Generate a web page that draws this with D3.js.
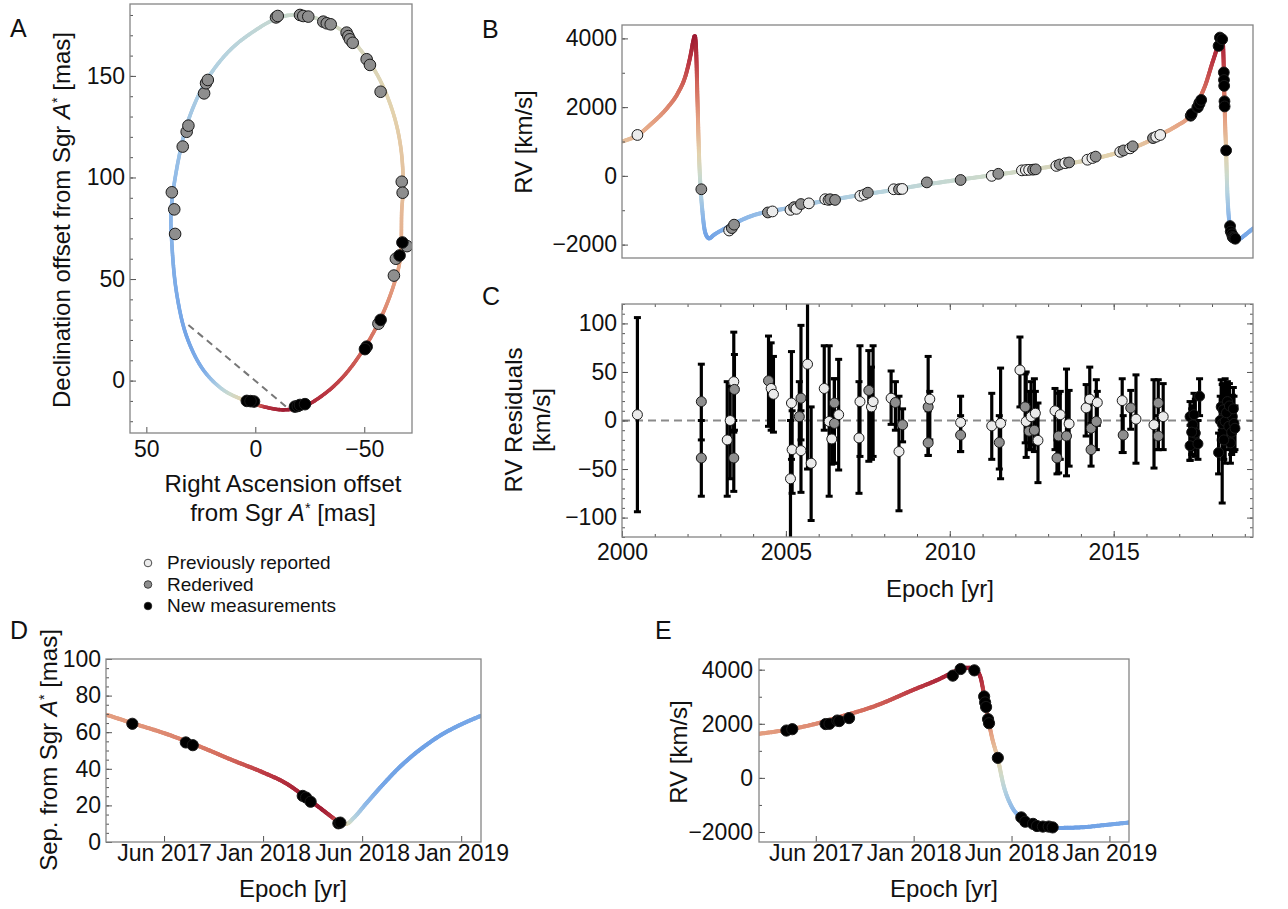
<!DOCTYPE html>
<html>
<head>
<meta charset="utf-8">
<script src="https://cdn.jsdelivr.net/npm/d3@7"></script>
<style>
  body { margin: 0; background: #fff; }
  svg text { font-family: "Liberation Sans", Arial, Helvetica, sans-serif; }
</style>
</head>
<body>
<svg id="fig" width="1288" height="909"></svg>
<script>
// ---- data ----
// orbit model (RA offset, Dec offset, RV used for colour)
const orbitCurve = [
  [38.6, 84, -1300], [35.3, 108.6, -1050], [30.7, 128.3, -850], [22.3, 148, -650],
  [11.6, 162.7, -450], [0.9, 171.8, -300], [-9.8, 178.3, -150], [-17.4, 180, -50],
  [-28.2, 178.3, 50], [-40.4, 171.8, 200], [-49.5, 161.1, 300], [-57.2, 148, 450],
  [-63.3, 131.6, 600], [-66.7, 115.2, 800], [-67.9, 95.5, 950], [-67.2, 84, 1100],
  [-66.4, 59.4, 1400], [-63.3, 46.3, 1700], [-57.2, 29.9, 2100], [-49.5, 15.1, 2600],
  [-40.4, 2, 3000], [-31.2, -7, 3400], [-22, -12.8, 3800], [-12.8, -14.4, 4000],
  [-3.7, -12.8, 3500], [5.5, -9.5, 700], [14.7, -4.6, -300], [23.9, 5.3, -1500],
  [31.5, 21.7, -1750], [36.1, 43, -1600], [38.3, 67.6, -1400]
];
// astrometry (RA, Dec, type: g = rederived, b = new)
const orbitPoints = [
  [-9.5, 178.8, "g"], [-10.3, 179.5, "g"], [-20.5, 180, "g"], [-22, 179.5, "g"], [-24.3, 179.2, "g"],
  [-31.2, 176.7, "g"], [-32.8, 175.9, "g"], [-34.6, 175.4, "g"],
  [-41.9, 171.3, "g"], [-42.7, 169.6, "g"], [-43.4, 168, "g"], [-44.7, 166.3, "g"],
  [-51.1, 158.2, "g"], [-52.6, 155.4, "g"], [-57.5, 142.2, "g"],
  [-67.2, 97.9, "g"], [-67.6, 92.5, "g"],
  [38.3, 92.7, "g"], [37.2, 84.3, "g"], [36.8, 72.2, "g"], [33.3, 115.2, "g"], [31.5, 122.5, "g"],
  [30.7, 125.5, "g"], [23.5, 141.4, "g"], [22.6, 146.4, "g"], [21.8, 148, "g"],
  [-69.6, 66.2, "g"], [-64.5, 60, "g"], [-63.6, 51.7, "g"], [-56.5, 28, "g"],
  [-67.5, 68, "b"], [-66.2, 61.6, "b"], [-57.5, 29.9, "b"], [-51.1, 16.7, "b"], [-50.3, 15.5, "b"],
  [3.9, -10, "b"], [0.6, -10.3, "b"], [2.2, -10.1, "b"], [-18.2, -12.8, "b"], [-19.5, -12.5, "b"],
  [-20.5, -12, "b"], [-22.8, -11.6, "b"]
];
const periLine = [[30.7, 27.4], [-15.9, -14.4]];

// RV model (year, km/s)
const rvModel = [
  [2000.0, 1000], [2000.5, 1200], [2000.9, 1520], [2001.4, 2000], [2001.7, 2400], [2001.95, 2950],
  [2002.1, 3550], [2002.18, 3950], [2002.22, 4080], [2002.26, 3700], [2002.3, 2300], [2002.35, 600],
  [2002.4, -400], [2002.45, -1000], [2002.5, -1450], [2002.58, -1750], [2002.66, -1820], [2002.8, -1720],
  [2003.1, -1550], [2003.5, -1350], [2004.0, -1150], [2004.5, -1030], [2005.0, -950], [2006.0, -760],
  [2007.0, -600], [2008.0, -450], [2009.0, -290], [2010.0, -150], [2011.0, -20], [2012.0, 110],
  [2013.0, 260], [2014.0, 420], [2015.0, 640], [2015.5, 780], [2016.0, 980], [2016.5, 1230],
  [2017.0, 1500], [2017.21, 1630], [2017.5, 2000], [2017.62, 2250], [2017.8, 2650], [2018.0, 3260],
  [2018.13, 3650], [2018.2, 3900], [2018.24, 4030], [2018.28, 4070], [2018.31, 4040], [2018.34, 3750],
  [2018.36, 3050], [2018.38, 2200], [2018.40, 1500], [2018.43, 700], [2018.46, -300], [2018.5, -1050],
  [2018.55, -1480], [2018.6, -1700], [2018.66, -1810], [2018.73, -1850], [2018.85, -1830],
  [2018.98, -1740], [2019.1, -1650], [2019.25, -1530]
];
// RV measurements before 2017 (year, km/s, type: w = previously reported, g = rederived)
const rvPoints = [
  [2000.47, 1190, "w"], [2002.42, -390, "g"], [2003.27, -1590, "w"], [2003.35, -1520, "g"], [2003.42, -1420, "g"],
  [2004.45, -1065, "g"], [2004.59, -1035, "w"], [2005.14, -990, "w"], [2005.25, -910, "g"], [2005.32, -960, "w"],
  [2005.46, -820, "g"], [2005.7, -800, "w"], [2006.2, -680, "w"], [2006.3, -700, "w"], [2006.35, -680, "g"],
  [2006.5, -700, "g"], [2007.27, -580, "w"], [2007.4, -540, "w"], [2007.5, -490, "g"], [2008.29, -390, "w"],
  [2008.45, -390, "g"], [2008.55, -380, "w"], [2009.3, -190, "g"], [2010.33, -120, "g"], [2011.28, 0, "w"],
  [2011.48, 60, "g"], [2012.2, 160, "w"], [2012.32, 170, "w"], [2012.42, 175, "w"], [2012.54, 180, "g"],
  [2012.62, 190, "g"], [2013.25, 290, "w"], [2013.35, 330, "g"], [2013.52, 370, "w"], [2013.64, 390, "g"],
  [2014.2, 470, "w"], [2014.35, 520, "w"], [2014.45, 560, "g"], [2015.2, 700, "w"], [2015.3, 740, "g"],
  [2015.5, 800, "w"], [2015.58, 860, "g"], [2016.2, 1100, "g"], [2016.3, 1140, "w"], [2016.42, 1190, "w"]
];
// new RV measurements 2017-2018 (year, km/s)
const newRV = [
  [2017.35, 1750], [2017.38, 1800], [2017.55, 1990], [2017.57, 2000], [2017.61, 2120], [2017.62, 2100],
  [2017.67, 2210], [2018.2, 3780], [2018.24, 4025], [2018.31, 3975], [2018.36, 3010], [2018.365, 2790],
  [2018.37, 2620], [2018.38, 2170], [2018.385, 2020], [2018.43, 740], [2018.55, -1460], [2018.57, -1620],
  [2018.61, -1700], [2018.63, -1780], [2018.66, -1800], [2018.69, -1800], [2018.71, -1830]
];
// RV residuals (year, residual, bar low, bar high, type)
const residuals = [
  [2000.47, 6, -94, 106, "w"], [2002.42, 19.5, -20, 58, "g"], [2002.42, -38.6, -78, 0, "g"],
  [2003.21, -20, -78, 40, "w"], [2003.3, 0, -60, 35, "w"], [2003.41, 40, -12, 91, "w"],
  [2003.43, 32, -10, 68, "g"], [2003.41, -38.6, -73, 0, "g"], [2004.47, 41, -6, 87, "g"],
  [2004.55, 33, -10, 80, "w"], [2004.62, 27, -12, 66, "w"], [2005.14, -60, -125, 0, "w"],
  [2005.17, 18, -40, 71, "w"], [2005.19, -30, -75, 10, "w"], [2005.41, 4, -30, 40, "g"],
  [2005.46, 23, -20, 98, "g"], [2005.46, -31, -74, 10, "w"], [2005.66, 58, -50, 125, "w"],
  [2005.77, -44, -103, 14, "w"], [2006.17, 33, -10, 77, "w"], [2006.32, -1, -78, 77, "w"],
  [2006.4, -19, -45, 20, "w"], [2006.48, 18, -44, 43, "g"], [2006.48, -3, -44, 43, "g"],
  [2006.61, 6, -51, 63, "w"], [2007.23, -18, -75, 40, "w"], [2007.26, 19.5, -37, 77, "w"],
  [2007.53, 31, -42, 72, "g"], [2007.61, 14, -40, 55, "w"], [2007.66, 19.5, -37, 77, "w"],
  [2008.21, 23, -4, 51, "w"], [2008.34, 18.5, -10, 40, "g"], [2008.45, -32, -93, 25, "w"],
  [2008.56, -4.4, -22, 12, "g"], [2009.34, 14, -36, 66, "g"], [2009.34, -23, -36, 10, "g"],
  [2009.39, 22, -20, 30, "w"], [2010.33, -2, -32, 25, "w"], [2010.33, -15, -32, 5, "g"],
  [2011.28, -5.5, -40, 28, "w"], [2011.55, -3, -60, 54, "w"], [2011.51, -22.6, -50, 5, "g"],
  [2012.14, 52, 14, 86, "w"], [2012.3, 14, -23, 48, "g"], [2012.33, -1, -38, 50, "w"],
  [2012.42, -11, -30, 30, "g"], [2012.48, 4, -30, 40, "w"], [2012.58, -10, -32, 43, "g"],
  [2012.61, 7.5, -25, 30, "w"], [2012.69, -20.5, -64, 18, "w"], [2013.21, 10, -30, 33, "w"],
  [2013.32, -16, -54, 28, "g"], [2013.27, -38.6, -55, -20, "g"], [2013.37, 6, -40, 30, "w"],
  [2013.56, -16, -57, 53, "g"], [2013.64, -3.4, -47, 31, "w"], [2014.16, 13, -16, 37, "w"],
  [2014.27, 22, -10, 55, "w"], [2014.31, -30, -47, -3, "g"], [2014.31, -8, -30, 20, "g"],
  [2014.47, -1, -30, 42, "g"], [2014.5, 18.5, -5, 30, "w"], [2015.26, 20.5, -33, 43, "w"],
  [2015.29, -15, -33, 5, "g"], [2015.52, 13, -9, 31, "g"], [2015.68, 1.4, -44, 47, "w"],
  [2016.23, -4.4, -49, 42, "w"], [2016.36, 18, -30, 42, "g"], [2016.36, -16, -30, 5, "g"],
  [2016.51, 4, -30, 38, "w"],
  [2017.33, 4, -41, 19.5, "b"], [2017.41, -4.4, -30, 15, "b"], [2017.33, -26, -41, -5, "b"],
  [2017.49, -13, -37, 22, "b"], [2017.62, 25, 5, 43, "b"], [2017.57, -24, -40, 0, "b"],
  [2017.38, -12, -35, 12, "b"], [2017.45, 6, -20, 28, "b"],
  [2018.2, -33, -55, -13, "b"], [2018.25, 0, -20, 25, "b"], [2018.28, 14, -10, 42, "b"],
  [2018.31, -3.4, -85, 37, "b"], [2018.34, 11, -15, 38, "b"], [2018.4, -1, -44, 43, "b"],
  [2018.47, 19.5, -5, 40, "b"], [2018.51, -6, -30, 20, "b"], [2018.56, -23, -44, 0, "b"],
  [2018.62, 4, -27, 26, "b"], [2018.67, -3, -32, 25, "b"], [2018.36, -20, -40, 2, "b"],
  [2018.44, 8, -12, 30, "b"], [2018.53, 15, -8, 38, "b"], [2018.6, -12, -35, 10, "b"],
  [2018.65, 12, -10, 34, "b"], [2018.7, -8, -30, 15, "b"]
];
// separation model (year, mas, RV used for colour) and measurements
const sepModel = [
  [2017.21, 69.5, 1630], [2017.35, 64.6, 1750], [2017.5, 59.5, 2000], [2017.68, 52.2, 2250],
  [2017.85, 44.5, 2650], [2018.0, 38, 3250], [2018.12, 31.8, 3600], [2018.2, 25.7, 3900],
  [2018.29, 18.4, 4050], [2018.355, 13, 3500], [2018.39, 10.2, 2000], [2018.42, 9.9, 600],
  [2018.456, 13, -400], [2018.52, 21, -1200], [2018.61, 32, -1700], [2018.69, 41, -1800],
  [2018.86, 55.8, -1830], [2019.10, 69, -1650]
];
const sepPoints = [
  [2017.34, 64.6], [2017.61, 54.4], [2017.645, 52.9], [2018.2, 25.2], [2018.217, 24.3],
  [2018.24, 22], [2018.38, 10.2], [2018.39, 10.6]
];
// tick labels
const orbitXTicks = [50, 0, -50];
const orbitYTicks = [0, 50, 100, 150];
const rvTicks = [-2000, 0, 2000, 4000];
const resTicks = [-100, -50, 0, 50, 100];
const yearTicks = [2000, 2005, 2010, 2015];
const sepTicks = [0, 20, 40, 60, 80, 100];
const zoomTicks = [2017.5, 2018, 2018.5, 2019];
const zoomTickLabels = ["Jun 2017", "Jan 2018", "Jun 2018", "Jan 2019"];

// ---- drawing ----
const svg = d3.select("#fig");
const fillOf = { w: "#ebebeb", g: "#8e8e8e", b: "#000" };
const rvColor = d3.scaleLinear()
  .domain([-1900, -1200, -500, 0, 600, 1500, 2500, 3300, 4100])
  .range(["#6c9fe6", "#8fb9e8", "#b6d3df", "#cddacb", "#e3d2ad", "#e6a686", "#d56e5e", "#bd3a44", "#9c1830"])
  .clamp(true);
let clipCount = 0;

function panel(x0, y0, w, h, xDom, yDom) {
  const g = svg.append("g").attr("transform", `translate(${x0},${y0})`);
  const x = d3.scaleLinear().domain(xDom).range([0, w]);
  const y = d3.scaleLinear().domain(yDom).range([h, 0]);
  const id = "clip" + (clipCount++);
  g.append("clipPath").attr("id", id).append("rect").attr("width", w).attr("height", h);
  return { g, x, y, w, h, clip: `url(#${id})` };
}

function frame(p) {
  p.g.append("rect").attr("width", p.w).attr("height", p.h)
    .attr("fill", "none").attr("stroke", "#858585").attr("stroke-width", 1.3);
}

function ticks(p, side, major, minor, fmt, pad) {
  const make = { left: d3.axisLeft, right: d3.axisRight, bottom: d3.axisBottom, top: d3.axisTop }[side];
  const sc = (side === "left" || side === "right") ? p.y : p.x;
  const tr = side === "right" ? `translate(${p.w},0)` : side === "bottom" ? `translate(0,${p.h})` : null;
  const add = (vals, size, f) => {
    const a = p.g.append("g").attr("transform", tr)
      .call(make(sc).tickValues(vals).tickSize(-size).tickPadding(pad).tickFormat(f));
    a.select(".domain").remove();
    a.selectAll("line").attr("stroke", "#555");
    a.selectAll("text").attr("font-family", null).attr("font-size", 23).attr("fill", "#111");
  };
  add(major, 6, fmt || (() => ""));
  if (minor) add(minor, 3, () => "");
}

// colour-graded line: sample the smooth path and colour every small piece
function gradLine(p, pts, valueAt, curve, width) {
  const tmp = p.g.append("path").attr("d", d3.line().curve(curve)(pts));
  const node = tmp.node();
  const L = node.getTotalLength();
  const n = Math.ceil(L / 1.5);
  const s = d3.range(n + 1).map(i => node.getPointAtLength(L * i / n));
  tmp.remove();
  const gg = p.g.append("g").attr("clip-path", p.clip);
  for (let i = 0; i < n; i++) {
    const a = s[i], b = s[i + 1];
    gg.append("line").attr("x1", a.x).attr("y1", a.y).attr("x2", b.x).attr("y2", b.y)
      .attr("stroke", rvColor(valueAt((a.x + b.x) / 2, (a.y + b.y) / 2)))
      .attr("stroke-width", width).attr("stroke-linecap", "round");
  }
}

// value along a polyline of vertices (nearest segment projection)
function vertexValue(pts, vals, closed) {
  const n = pts.length;
  return (px, py) => {
    let k = 0, best = Infinity;
    pts.forEach((q, i) => {
      const d = (q[0] - px) ** 2 + (q[1] - py) ** 2;
      if (d < best) { best = d; k = i; }
    });
    let res = vals[k], bestD = Infinity;
    [[k - 1, k], [k, k + 1]].forEach(([i, j]) => {
      if (closed) { i = (i + n) % n; j = (j + n) % n; }
      else if (i < 0 || j >= n) return;
      const A = pts[i], B = pts[j];
      const dx = B[0] - A[0], dy = B[1] - A[1];
      let t = ((px - A[0]) * dx + (py - A[1]) * dy) / (dx * dx + dy * dy);
      t = Math.max(0, Math.min(1, t));
      const d = (A[0] + t * dx - px) ** 2 + (A[1] + t * dy - py) ** 2;
      if (d < bestD) { bestD = d; res = vals[i] + t * (vals[j] - vals[i]); }
    });
    return res;
  };
}

function dots(p, data, xf, yf, tf, r) {
  p.g.append("g").attr("clip-path", p.clip).selectAll("circle").data(data).enter().append("circle")
    .attr("cx", d => p.x(xf(d))).attr("cy", d => p.y(yf(d))).attr("r", r)
    .attr("fill", d => fillOf[tf(d)]).attr("stroke", "#1a1a1a").attr("stroke-width", 1);
}

function label(x, y, size, rotate, parts, anchor) {
  const t = svg.append("text").attr("font-size", size).attr("fill", "#111")
    .attr("text-anchor", anchor || "middle")
    .attr("transform", `translate(${x},${y})` + (rotate ? " rotate(-90)" : ""));
  parts.forEach(pt => {
    if (typeof pt === "string") t.append("tspan").text(pt);
    else if (pt.sgr) {
      t.append("tspan").attr("font-style", "italic").text("A");
      t.append("tspan").attr("font-size", size * 0.6).attr("dy", -size * 0.35).text("*");
      t.append("tspan").attr("dy", size * 0.35).text(pt.sgr);
    }
  });
  return t;
}
const fmtInt = d3.format("d");

// ---- Panel A: orbit on sky ----
const pA = panel(130, 4, 282, 429, [57.5, -71.9], [-25.8, 185.4]);
gradLine(pA, orbitCurve.map(d => [pA.x(d[0]), pA.y(d[1])]),
  vertexValue(orbitCurve.map(d => [pA.x(d[0]), pA.y(d[1])]), orbitCurve.map(d => d[2]), true),
  d3.curveCatmullRomClosed.alpha(0.5), 3.6);
pA.g.append("line")
  .attr("x1", pA.x(periLine[0][0])).attr("y1", pA.y(periLine[0][1]))
  .attr("x2", pA.x(periLine[1][0])).attr("y2", pA.y(periLine[1][1]))
  .attr("stroke", "#777").attr("stroke-width", 2).attr("stroke-dasharray", "7,5");
dots(pA, orbitPoints, d => d[0], d => d[1], d => d[2], 5.8);
ticks(pA, "left", orbitYTicks, d3.range(-20, 181, 10), fmtInt, 5);
ticks(pA, "bottom", orbitXTicks, null, fmtInt, 8);
frame(pA);

// ---- Panel B: RV vs time ----
const pB = panel(622, 25, 631, 233, [2000, 2019.25], [-2390, 4390]);
gradLine(pB, rvModel.map(d => [pB.x(d[0]), pB.y(d[1])]), (px, py) => pB.y.invert(py), d3.curveMonotoneX, 4);
dots(pB, rvPoints, d => d[0], d => d[1], d => d[2], 5.4);
dots(pB, newRV, d => d[0], d => d[1], () => "b", 5.4);
ticks(pB, "left", rvTicks, d3.range(-2000, 4001, 1000), fmtInt, 5);
frame(pB);

// ---- Panel C: RV residuals ----
const pC = panel(622, 304, 631, 233, [2000, 2019.25], [-120, 120]);
pC.g.append("line").attr("x1", 0).attr("x2", pC.w).attr("y1", pC.y(0)).attr("y2", pC.y(0))
  .attr("stroke", "#8a8a8a").attr("stroke-width", 2).attr("stroke-dasharray", "8,5");
const bars = pC.g.append("g").attr("clip-path", pC.clip);
residuals.forEach(d => {
  const x = pC.x(d[0]);
  bars.append("line").attr("x1", x).attr("x2", x).attr("y1", pC.y(d[2])).attr("y2", pC.y(d[3]))
    .attr("stroke", "#000").attr("stroke-width", 3.2);
  [d[2], d[3]].forEach(v => bars.append("line").attr("x1", x - 3.5).attr("x2", x + 3.5)
    .attr("y1", pC.y(v)).attr("y2", pC.y(v)).attr("stroke", "#000").attr("stroke-width", 3));
});
dots(pC, residuals, d => d[0], d => d[1], d => d[4], 5);
ticks(pC, "left", resTicks, d3.range(-120, 121, 10), fmtInt, 5);
ticks(pC, "right", resTicks, d3.range(-120, 121, 10), null, 5);
ticks(pC, "bottom", yearTicks, d3.range(2000, 2020, 1), fmtInt, 7);
ticks(pC, "top", yearTicks, d3.range(2000, 2020, 1), null, 7);
frame(pC);

// ---- Panel D: separation ----
const pD = panel(106, 659, 375, 183, [2017.207, 2019.10], [0, 100]);
gradLine(pD, sepModel.map(d => [pD.x(d[0]), pD.y(d[1])]),
  vertexValue(sepModel.map(d => [pD.x(d[0]), pD.y(d[1])]), sepModel.map(d => d[2]), false),
  d3.curveMonotoneX, 4);
dots(pD, sepPoints, d => d[0], d => d[1], () => "b", 5.6);
ticks(pD, "left", sepTicks, d3.range(0, 101, 5), fmtInt, 5);
ticks(pD, "bottom", zoomTicks, null, (d, i) => zoomTickLabels[i], 3);
frame(pD);

// ---- Panel E: RV zoom ----
const pE = panel(759, 659, 370, 183, [2017.21, 2019.10], [-2370, 4395]);
const eModel = rvModel.filter(d => d[0] > 2016.9);
gradLine(pE, eModel.map(d => [pE.x(d[0]), pE.y(d[1])]), (px, py) => pE.y.invert(py), d3.curveMonotoneX, 4);
dots(pE, newRV, d => d[0], d => d[1], () => "b", 5.6);
ticks(pE, "left", rvTicks, d3.range(-2000, 4001, 1000), fmtInt, 6);
ticks(pE, "bottom", zoomTicks, null, (d, i) => zoomTickLabels[i], 3);
frame(pE);

// ---- panel letters and axis titles ----
[["A", 10, 37], ["B", 482, 38], ["C", 482, 305], ["D", 10, 639], ["E", 655, 639]].forEach(d =>
  svg.append("text").attr("x", d[1]).attr("y", d[2]).attr("font-size", 25).attr("fill", "#111").text(d[0]));

label(70, 220, 24, true, ["Declination offset from Sgr ", { sgr: " [mas]" }]);
label(283, 492, 24, false, ["Right Ascension offset"]);
label(283, 521, 24, false, ["from Sgr ", { sgr: " [mas]" }]);
label(532, 142, 24, true, ["RV [km/s]"]);
label(522, 420, 24, true, ["RV Residuals"]);
label(550, 420, 24, true, ["[km/s]"]);
label(940, 597, 24, false, ["Epoch [yr]"]);
label(57, 750, 24, true, ["Sep. from Sgr ", { sgr: " [mas]" }]);
label(293, 897, 24, false, ["Epoch [yr]"]);
label(687, 752, 24, true, ["RV [km/s]"]);
label(944, 897, 24, false, ["Epoch [yr]"]);

// legend
const legendItems = [["Previously reported", "w"], ["Rederived", "g"], ["New measurements", "b"]];
legendItems.forEach((d, i) => {
  svg.append("circle").attr("cx", 148).attr("cy", 563 + i * 21.5).attr("r", 3.8)
    .attr("fill", fillOf[d[1]]).attr("stroke", "#222").attr("stroke-width", 0.8);
  svg.append("text").attr("x", 167).attr("y", 569 + i * 21.5).attr("font-size", 19).attr("fill", "#111").text(d[0]);
});
</script>
</body>
</html>
